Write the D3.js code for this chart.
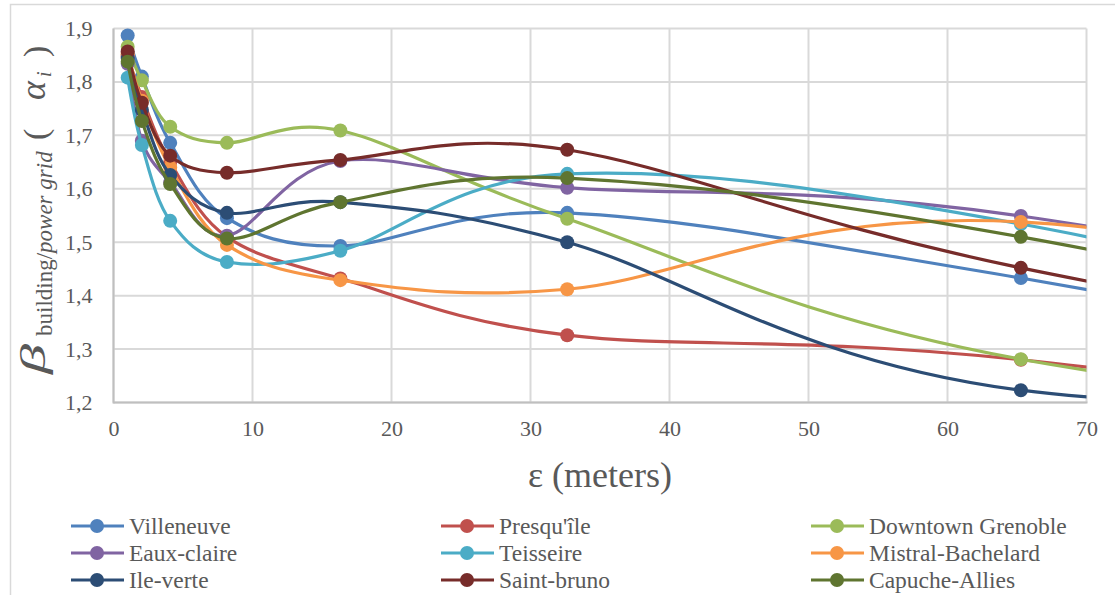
<!DOCTYPE html>
<html>
<head>
<meta charset="utf-8">
<script src="https://cdn.jsdelivr.net/npm/d3@7"></script>
<style>
  body { margin: 0; background: #fff; }
  svg { display: block; }
  svg text { font-family: "Liberation Serif", "Times New Roman", serif; }
</style>
</head>
<body>
<svg id="chart" width="1115" height="595"></svg>
<script>
// ---- data ----
const xValues = [1.02, 2.04, 4.08, 8.16, 16.32, 32.64, 65.28, 130.56];
const seriesNames = ["Villeneuve", "Presqu'île", "Downtown Grenoble", "Eaux-claire", "Teisseire",
                     "Mistral-Bachelard", "Ile-verte", "Saint-bruno", "Capuche-Allies"];
const villeneuve   = [1.887, 1.810, 1.686, 1.545, 1.493, 1.555, 1.433, 1.133];
const presquile    = [1.848, 1.772, 1.650, 1.510, 1.432, 1.326, 1.280, 1.056];
const downtown     = [1.866, 1.803, 1.716, 1.686, 1.709, 1.544, 1.281, 1.075];
const eauxClaire   = [1.834, 1.690, 1.612, 1.512, 1.652, 1.602, 1.549, 1.239];
const teisseire    = [1.808, 1.682, 1.540, 1.463, 1.484, 1.628, 1.534, 1.161];
const mistral      = [1.852, 1.765, 1.640, 1.495, 1.429, 1.412, 1.538, 1.273];
const ileVerte     = [1.845, 1.748, 1.626, 1.555, 1.575, 1.500, 1.223, 1.172];
const saintBruno   = [1.857, 1.761, 1.662, 1.630, 1.654, 1.673, 1.452, 1.145];
const capuche      = [1.838, 1.727, 1.609, 1.507, 1.575, 1.620, 1.510, 1.165];
const seriesValues = [villeneuve, presquile, downtown, eauxClaire, teisseire, mistral, ileVerte, saintBruno, capuche];
const seriesColors = ["#4F81BD", "#C0504D", "#9BBB59", "#8064A2", "#4BACC6", "#F79646", "#2C4D75", "#772C2A", "#5F7530"];
const xTicks = [0, 10, 20, 30, 40, 50, 60, 70];
const yTicks = [1.2, 1.3, 1.4, 1.5, 1.6, 1.7, 1.8, 1.9];

// ---- layout ----
const svg = d3.select("#chart");
const plot = { left: 113.5, right: 1086.5, top: 28.5, bottom: 402.5 };
const x = d3.scaleLinear().domain([0, 70]).range([plot.left, plot.right]);
const y = d3.scaleLinear().domain([1.2, 1.9]).range([plot.bottom, plot.top]);
const gridColor = "#D9D9D9";
const textColor = "#595959";
const font = "'Liberation Serif', 'Times New Roman', serif";

// chart border
svg.append("rect").attr("x", 10.5).attr("y", 4.5).attr("width", 1120).attr("height", 620)
  .attr("fill", "none").attr("stroke", gridColor).attr("stroke-width", 1.5);

// gridlines
svg.append("g").selectAll("line").data(yTicks).join("line")
  .attr("x1", plot.left).attr("x2", plot.right)
  .attr("y1", d => y(d)).attr("y2", d => y(d))
  .attr("stroke", gridColor).attr("stroke-width", 2);
svg.append("g").selectAll("line").data(xTicks).join("line")
  .attr("y1", plot.top).attr("y2", plot.bottom)
  .attr("x1", d => x(d)).attr("x2", d => x(d))
  .attr("stroke", gridColor).attr("stroke-width", 2);
// axis lines
svg.append("line").attr("x1", plot.left).attr("x2", plot.left).attr("y1", plot.top).attr("y2", plot.bottom + 1)
  .attr("stroke", "#BFBFBF").attr("stroke-width", 2);
svg.append("line").attr("x1", plot.left).attr("x2", plot.right + 1).attr("y1", plot.bottom).attr("y2", plot.bottom)
  .attr("stroke", "#BFBFBF").attr("stroke-width", 2);

// axes (labels only)
const fmt = d => d3.format(".1f")(d).replace(".", ",");
const yAxis = svg.append("g").attr("transform", `translate(${plot.left},0)`)
  .call(d3.axisLeft(y).tickValues(yTicks).tickFormat(fmt).tickSize(0).tickPadding(21));
const xAxis = svg.append("g").attr("transform", `translate(0,${plot.bottom})`)
  .call(d3.axisBottom(x).tickValues(xTicks).tickFormat(d3.format("d")).tickSize(0).tickPadding(18));
[yAxis, xAxis].forEach(a => {
  a.attr("font-family", null).attr("font-size", null);
  a.select(".domain").remove();
  a.selectAll("text").style("font-family", font).style("font-size", "22px").attr("fill", textColor);
});

// clip
svg.append("defs").append("clipPath").attr("id", "plotclip")
  .append("rect").attr("x", plot.left - 10).attr("y", plot.top - 12)
  .attr("width", plot.right - plot.left + 10).attr("height", plot.bottom - plot.top + 12);

const line = d3.line().x(d => x(d[0])).y(d => y(d[1])).curve(d3.curveCardinal.tension(0));
const g = svg.append("g").attr("clip-path", "url(#plotclip)");
seriesValues.forEach((vals, i) => {
  const pts = xValues.map((xv, j) => [xv, vals[j]]);
  const sg = g.append("g");
  sg.append("path").attr("d", line(pts)).attr("fill", "none")
    .attr("stroke", seriesColors[i]).attr("stroke-width", 3.2).attr("stroke-linecap", "round");
  sg.selectAll("circle").data(pts.filter(p => p[0] <= 70)).join("circle")
    .attr("cx", d => x(d[0])).attr("cy", d => y(d[1])).attr("r", 7)
    .attr("fill", seriesColors[i]);
});

// x axis title
svg.append("text").attr("x", (plot.left + plot.right) / 2).attr("y", 487)
  .attr("text-anchor", "middle").style("font-size", "36px")
  .attr("fill", textColor).text("ε (meters)");

// y axis title (rotated; local x runs upward along the axis)
const yt = svg.append("g").attr("transform", "translate(45,378) rotate(-90)").attr("fill", textColor);
yt.append("text").attr("x", 4).attr("y", 0).style("font-size", "36px").attr("font-style", "italic")
  .attr("textLength", 30).attr("lengthAdjust", "spacingAndGlyphs").text("β");
const sub = yt.append("text").attr("x", 42).attr("y", 7).style("font-size", "23px");
sub.append("tspan").text("building/");
sub.append("tspan").attr("font-style", "italic").text("power grid");
yt.append("text").attr("x", 238).attr("y", 2).style("font-size", "34px").text("(");
yt.append("text").attr("x", 278).attr("y", 0).style("font-size", "36px").attr("font-style", "italic").text("α");
yt.append("text").attr("x", 301).attr("y", 6).style("font-size", "20px").attr("font-style", "italic").text("i");
yt.append("text").attr("x", 321).attr("y", 2).style("font-size", "34px").text(")");

// legend
const legCols = [71, 441, 811];
const legRows = [526, 553, 580];
seriesNames.forEach((name, i) => {
  const lx = legCols[i % 3], ly = legRows[Math.floor(i / 3)];
  const lg = svg.append("g");
  lg.append("line").attr("x1", lx).attr("x2", lx + 53).attr("y1", ly).attr("y2", ly)
    .attr("stroke", seriesColors[i]).attr("stroke-width", 3.2);
  lg.append("circle").attr("cx", lx + 26).attr("cy", ly).attr("r", 7).attr("fill", seriesColors[i]);
  lg.append("text").attr("x", lx + 58).attr("y", ly + 8)
    .style("font-size", "23.5px").attr("fill", textColor).text(name);
});
</script>
</body>
</html>
